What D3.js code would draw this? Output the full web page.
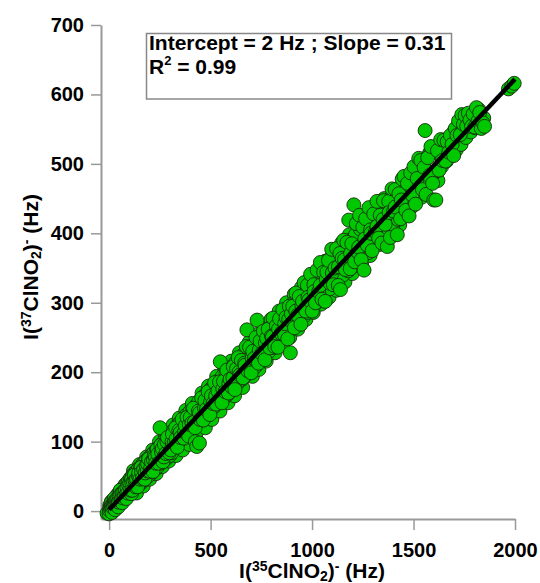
<!DOCTYPE html>
<html>
<head>
    <script src="https://cdn.jsdelivr.net/npm/d3@7/dist/d3.min.js" charset="UTF-8"></script>
    <style>
        body { margin: 0; background: #fff; }
        text { font-family: Arial, "Liberation Sans", sans-serif; font-weight: bold; }
    </style>
</head>

<body>

<svg width="540" height="583"></svg>
<script type="text/javascript">
// I(35ClNO2)- vs I(37ClNO2)- in Hz
var points = [
    // near the origin
    [-10,-3],[0,-4],[2,1],[5,5],[8,3],[10,8],[10,12],[13,4],[15,9],[15,-2],[18,5],[20,11],[23,7],[25,18],[26,13],
    [29,9],[30,2],[31,15],[34,10],[37,17],[40,12],[43,19],[45,6],[46,13],[50,21],[53,15],[55,30],[57,24],[60,17],
    [64,26],[65,12],[68,19],[72,28],[76,22],[80,31],[84,24],[85,18],[88,34],[92,26],[97,37],[110,25],
    // 100 - 300
    [102,40],[106,30],[110,45],[112,40],[115,30],[120,42],[125,52],[128,44],[130,35],[135,46],[140,35],[145,50],
    [146,55],[152,46],[158,63],[160,56],[164,47],[170,60],[176,46],[178,55],[182,65],[188,58],[190,68],[195,75],
    [202,57],[205,62],[209,71],[216,57],[218,74],[223,80],[228,78],[230,69],[237,89],[240,82],[244,69],[251,120],
    [255,95],[258,85],[262,90],[265,71],[270,78],[272,96],[280,83],[285,100],[288,106],[296,84],
    // 300 - 600
    [304,88],[310,100],[312,111],[320,98],[328,120],[330,104],[336,92],[344,116],[350,113],[352,106],[360,132],
    [368,105],[372,114],[376,123],[384,135],[392,108],[395,125],[400,135],[408,127],[416,148],[420,128],[424,120],
    [425,100],[432,93],[440,144],[445,98],[445,141],[448,132],[456,163],[464,131],[470,148],[472,159],[480,147],
    [488,172],[496,139],[500,157],[504,166],[512,155],[520,185],[525,166],[528,154],[536,173],[544,186],[548,215],
    [556,156],[560,176],[564,187],[572,172],[580,203],[588,170],[590,184],[596,190],
    // 600 - 900
    [604,179],[610,192],[612,208],[620,175],[628,205],[636,221],[640,200],[644,196],[652,217],[660,192],[668,213],
    [670,210],[676,237],[679,261],[684,202],[692,236],[700,199],[705,220],[708,230],[716,220],[724,250],[729,275],
    [736,213],[740,232],[744,245],[752,227],[760,259],[768,218],[770,242],[776,249],[784,262],[792,235],[800,252],
    [805,251],[808,278],[816,237],[824,267],[832,236],[835,262],[840,277],[848,256],[856,290],[864,254],[865,270],
    [872,279],[880,248],[885,276],[888,295],[893,228],[898,284],
    // 900 - 1200
    [905,295],[913,264],[920,288],[921,314],[929,282],[937,309],[945,269],[950,296],[953,302],[961,329],[969,288],
    [977,325],[980,308],[985,304],[993,341],[1001,288],[1009,326],[1010,316],[1017,300],[1025,347],[1033,316],
    [1040,325],[1041,358],[1049,305],[1057,344],[1065,302],[1070,334],[1073,344],[1081,361],[1089,328],[1097,377],
    [1100,343],[1105,326],[1113,350],[1121,378],[1129,325],[1130,352],[1137,371],[1140,319],[1148,364],[1156,390],
    [1160,362],[1164,348],[1172,387],[1181,419],[1188,349],[1190,371],[1196,385],[1206,441],
    // 1200 - 1450
    [1210,359],[1218,414],[1226,373],[1230,380],[1234,426],[1242,362],[1250,409],[1256,347],[1260,392],[1264,421],
    [1272,383],[1280,437],[1288,405],[1290,400],[1296,375],[1304,428],[1312,402],[1320,446],[1320,410],[1328,393],
    [1336,426],[1344,386],[1350,420],[1352,447],[1360,413],[1371,381],[1378,446],[1380,430],[1386,394],[1394,464],
    [1402,432],[1410,463],[1410,438],[1420,398],[1428,457],[1436,421],[1440,448],[1444,478],
    // 1450 - 1650
    [1453,482],[1462,433],[1470,472],[1478,425],[1486,487],[1494,455],[1502,496],[1510,442],[1518,479],[1526,508],
    [1536,505],[1544,463],[1552,495],[1557,548],[1562,456],[1570,509],[1578,483],[1586,525],[1594,472],[1600,448],
    [1610,448],[1618,519],[1626,491],[1634,535],[1642,505],[1650,534],
    // top end
    [1658,504],[1666,532],[1674,517],[1682,541],[1690,528],[1698,512],[1706,551],[1714,541],[1722,562],[1730,542],
    [1738,571],[1746,557],[1754,570],[1762,554],[1770,573],[1778,563],[1786,554],[1794,572],[1802,553],[1810,581],
    [1818,562],[1826,574],[1834,551],[1842,559],[1850,554],[1968,608],[1984,612],[1996,616]
];

// the dense body of the band on both sides of the fit
var bandPoints = [
    [3,8],[7,-1],[12,14],[17,2],[22,16],[28,5],[33,20],[38,8],[42,24],[48,10],[52,27],[58,13],[62,30],[67,15],
    [70,34],[75,18],[79,38],[83,20],[87,40],[90,22],[95,43],[99,26],[104,47],[108,28],[113,50],[118,31],[122,54],
    [127,34],[133,57],[138,36],[143,60],[149,38],[155,64],[161,42],[167,68],[173,45],[180,72],[186,49],[193,76],
    [199,52],[207,80],[213,56],[220,84],[226,60],[233,88],[239,64],[247,92],[253,69],[260,97],[268,72],[276,102],
    [283,76],[292,108],[299,80],
    [302,110],[308,84],[316,116],[324,92],[333,122],[340,98],[348,127],[356,104],[364,132],[370,108],[380,138],
    [388,112],[398,143],[404,118],[412,147],[418,124],[428,152],[436,128],[442,158],[452,134],[460,162],[468,139],
    [476,168],[484,142],[492,173],[498,146],[508,178],[516,150],[522,182],[532,155],[540,188],[552,160],[558,194],
    [568,164],[576,198],[584,168],[592,203],[600,174],[608,208],[616,180],[624,214],[632,184],[648,220],[656,190],
    [664,226],[672,195],[688,232],[696,202],[712,238],[720,208],[732,245],[748,218],[756,252],[764,222],[780,258],
    [788,230],[796,265],[812,236],[820,272],[828,242],[844,280],[852,248],[860,284],[868,255],[876,290],[884,262],
    [896,296],
    [908,300],[916,268],[926,305],[934,274],[942,313],[958,280],[966,320],[974,286],[990,330],[998,294],[1014,336],
    [1022,300],[1030,342],[1046,308],[1054,350],[1062,314],[1078,356],[1086,320],[1094,364],[1110,326],[1118,368],
    [1126,332],[1142,378],[1152,340],[1168,386],[1178,346],[1186,390],[1200,352],[1214,398],[1222,358],[1238,406],
    [1246,366],[1268,414],[1276,372],[1292,422],[1300,382],[1316,430],[1324,388],[1340,436],[1348,398],[1364,446],
    [1374,404],[1390,452],[1398,412],[1416,460],[1424,420],[1448,468],[1458,430],[1474,478],[1482,440],[1498,486],
    [1506,450],[1522,494],[1530,458],[1548,500],[1566,470],[1574,512],[1590,482],[1606,520],[1614,490],[1630,526],
    [1638,496],[1654,530],[1662,504],[1678,538],[1686,512],[1702,548],[1710,520],[1726,556],[1734,528],[1750,562],
    [1758,538],[1774,568],[1782,546],[1798,574],[1806,552],[1822,578],[1830,560],[1846,566]
];

// outer edge of the band
var edgePoints = [
    [120,58],[135,26],[150,67],[168,36],[185,78],[200,46],[215,88],[232,54],[248,100],[262,64],[278,110],[294,72],
    [315,124],[330,80],[346,134],[362,88],[378,145],[394,96],[410,155],[426,108],[458,170],[474,120],[490,180],
    [506,132],[530,194],[546,144],[570,206],[586,156],[602,216],[618,166],[642,228],[658,178],[690,243],[706,194],
    [722,254],[738,204],[762,266],[774,216],[798,276],[818,228],[838,288],[854,240],[874,300],[890,250],
    [912,312],[930,262],[948,322],[970,276],[988,334],[1006,286],[1028,346],[1044,298],[1066,360],[1084,308],
    [1104,372],[1120,318],[1146,386],[1162,330],[1184,398],[1198,342],[1228,412],[1244,356],[1270,426],[1286,368],
    [1310,438],[1334,384],[1356,450],[1384,398],[1408,462],[1432,412],[1464,480],[1490,438],[1516,496],[1540,452],
    [1580,516],[1620,476]
];

// linear fit shown in the box
var fitIntercept = 2;
var fitSlope = 0.31;
var fitRange = [0, 2000];
var fitR2 = 0.99;

var xTicks = [0, 500, 1000, 1500, 2000];
var yTicks = [0, 100, 200, 300, 400, 500, 600, 700];

var svg = d3.select('svg');

// scales
var x = d3.scaleLinear().domain([-40, 2000]).range([101, 515]);
var y = d3.scaleLinear().domain([-11.4, 700]).range([519, 25]);

// axes
var xAxis = svg.append('g')
    .attr('transform', 'translate(0,519)')
    .call(d3.axisBottom(x).tickValues(xTicks).tickFormat(d3.format('d'))
        .tickSize(11).tickSizeOuter(0).tickPadding(13));
var yAxis = svg.append('g')
    .attr('transform', 'translate(101,0)')
    .call(d3.axisLeft(y).tickValues(yTicks).tickFormat(d3.format('d'))
        .tickSize(10).tickSizeOuter(0).tickPadding(7));

[xAxis, yAxis].forEach(function(g) {
    g.select('.domain').attr('stroke', '#999').attr('stroke-width', 2);
    g.selectAll('.tick line').attr('stroke', '#999').attr('stroke-width', 1.5);
    g.selectAll('.tick text')
        .attr('fill', '#000')
        .style('font-size', '20px')
        .style('font-family', 'Arial, "Liberation Sans", sans-serif')
        .style('font-weight', 'bold');
});

// points: edge and band first, then the rest on top
svg.append('g').selectAll('circle')
    .data(edgePoints.concat(bandPoints, points))
    .enter()
    .append('circle')
    .attr('cx', function(d) { return x(d[0]); })
    .attr('cy', function(d) { return y(d[1]); })
    .attr('r', 7)
    .attr('fill', '#00c800')
    .attr('stroke', '#1a2a10')
    .attr('stroke-width', 0.9);

// fit line
var line = d3.line()
    .x(function(d) { return x(d); })
    .y(function(d) { return y(fitIntercept + fitSlope * d); });
svg.append('path')
    .datum(fitRange)
    .attr('d', line)
    .attr('fill', 'none')
    .attr('stroke', '#000')
    .attr('stroke-width', 4.5);

// annotation box
svg.append('rect')
    .attr('x', 146.5).attr('y', 33.5)
    .attr('width', 305).attr('height', 65.5)
    .attr('fill', '#fff')
    .attr('stroke', '#888')
    .attr('stroke-width', 1.5);

svg.append('text')
    .attr('x', 149).attr('y', 50)
    .style('font-size', '21px')
    .text('Intercept = ' + fitIntercept + ' Hz ; Slope = ' + fitSlope);

var r2 = svg.append('text')
    .attr('x', 149).attr('y', 74)
    .style('font-size', '21px');
r2.append('tspan').text('R');
r2.append('tspan').attr('dy', -9).style('font-size', '13px').text('2');
r2.append('tspan').attr('dy', 9).text(' = ' + fitR2);

// axis titles with super/subscripts
function title(t, iso) {
    t.append('tspan').text('I(');
    t.append('tspan').attr('dy', -7).style('font-size', '14px').text(iso);
    t.append('tspan').attr('dy', 7).text('ClNO');
    t.append('tspan').attr('dy', 3).style('font-size', '14px').text('2');
    t.append('tspan').attr('dy', -3).text(')');
    t.append('tspan').attr('dy', -7).style('font-size', '14px').text('-');
    t.append('tspan').attr('dy', 7).text(' (Hz)');
}

var xt = svg.append('text')
    .attr('x', 312).attr('y', 578)
    .attr('text-anchor', 'middle')
    .style('font-size', '21px');
title(xt, '35');

var yt = svg.append('text')
    .attr('transform', 'translate(38,267) rotate(-90)')
    .attr('text-anchor', 'middle')
    .style('font-size', '21px');
title(yt, '37');
</script>

</body>
</html>
